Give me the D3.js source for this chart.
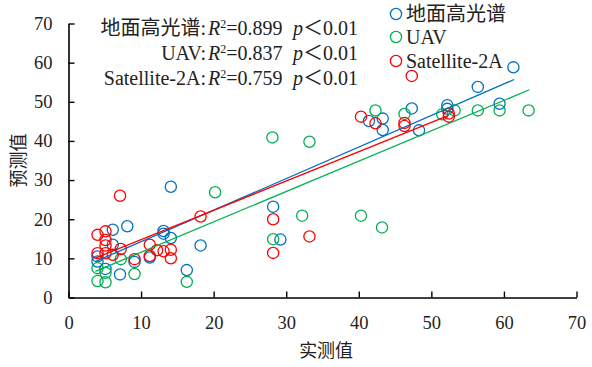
<!DOCTYPE html>
<html>
<head>
<meta charset="utf-8">
<script src="https://cdn.jsdelivr.net/npm/d3@7"></script>
<style>
  body { margin: 0; background: #fff; }
  text { font-family: "Liberation Serif", "Noto Sans CJK SC", serif; fill: #222; }
</style>
</head>
<body>
<div id="chart"></div>
<script>
// series names and colours
var seriesNames = ["地面高光谱", "UAV", "Satellite-2A"];
var seriesColors = ["#0070C0", "#00B050", "#FF0000"];

var hyperX = [61.3, 56.4, 47.3, 52.2, 52.2, 59.4, 43.3, 43.3, 41.4, 48.3, 28.2, 29.2, 18.2, 14.1, 6.1, 8.1, 6.1, 4.0, 4.0, 9.1, 7.1, 11.2, 13.1, 13.1, 14.1, 16.3, 5.1];
var hyperY = [58.8, 53.8, 48.3, 49.1, 48.2, 49.5, 45.7, 42.8, 45.1, 42.7, 23.2, 14.8, 13.3, 28.3, 17.3, 18.2, 13.5, 10.5, 9.2, 9.1, 5.9, 10.2, 17.0, 16.3, 15.2, 7.0, 7.3];

var uavX = [63.4, 59.4, 56.4, 53.2, 51.5, 46.3, 42.3, 43.2, 40.3, 32.2, 33.2, 28.1, 28.2, 20.2, 16.3, 9.1, 7.2, 4.0, 5.1, 4.0, 5.1];
var uavY = [47.8, 47.8, 47.8, 47.8, 46.8, 46.9, 47.8, 17.9, 20.9, 20.9, 39.8, 40.9, 14.9, 26.9, 4.0, 6.0, 9.8, 7.5, 6.3, 4.2, 3.9];

var satX = [47.3, 40.3, 42.3, 46.3, 46.3, 52.4, 52.4, 28.2, 28.2, 33.2, 18.2, 7.1, 4.0, 5.1, 5.1, 5.1, 7.2, 4.0, 5.1, 6.1, 9.1, 11.2, 11.2, 12.2, 13.1, 14.1, 14.1];
var satY = [56.6, 46.2, 44.5, 44.6, 43.8, 46.2, 47.0, 20.0, 11.4, 15.6, 20.7, 26.0, 16.0, 16.9, 14.7, 13.3, 12.4, 11.3, 11.3, 10.9, 9.8, 13.5, 10.6, 12.1, 11.8, 12.2, 10.0];

// linear fits (slope, intercept, x range) and stats
var fitSlope = [0.806, 0.776, 0.749];
var fitIntercept = [6.2, 3.8, 7.3];
var fitFrom = [3.7, 3.7, 3.7];
var fitTo = [61.4, 63.5, 52.4];
var r2Values = ["0.899", "0.837", "0.759"];

var xTicks = [0, 10, 20, 30, 40, 50, 60, 70];
var yTicks = [0, 10, 20, 30, 40, 50, 60, 70];

var W = 592, H = 367;
var margin = { top: 23.5, right: 15.5, bottom: 69.5, left: 68.5 };
var width = W - margin.left - margin.right,
    height = H - margin.top - margin.bottom;

var svg = d3.select("#chart").append("svg")
    .attr("width", W).attr("height", H);
var g = svg.append("g")
    .attr("transform", "translate(" + margin.left + "," + margin.top + ")");

var x = d3.scaleLinear().domain([0, 70]).range([0, width]);
var y = d3.scaleLinear().domain([0, 70]).range([height, 0]);

// axes, ticks pointing inward
var xAxis = g.append("g")
    .attr("transform", "translate(0," + height + ")")
    .call(d3.axisBottom(x).tickValues(xTicks).tickSize(-6).tickPadding(18).tickSizeOuter(0));
var yAxis = g.append("g")
    .call(d3.axisLeft(y).tickValues(yTicks).tickSize(-6).tickPadding(16).tickSizeOuter(0));

[xAxis, yAxis].forEach(function(a) {
    a.select(".domain").attr("stroke", "#000").attr("stroke-width", 1.6);
    a.selectAll(".tick line").attr("stroke", "#000").attr("stroke-width", 1.4);
    a.selectAll(".tick text")
        .style("font-family", "Liberation Serif")
        .style("font-size", "18.5px")
        .attr("fill", "#222");
});

// axis titles
svg.append("text")
    .attr("x", margin.left + x(35.5)).attr("y", 357)
    .attr("text-anchor", "middle")
    .style("font-size", "18px")
    .text("实测值");
svg.append("text")
    .attr("transform", "translate(25," + (margin.top + y(35)) + ") rotate(-90)")
    .attr("text-anchor", "middle")
    .style("font-size", "18px")
    .text("预测值");

var series = [
    { xs: hyperX, ys: hyperY },
    { xs: uavX, ys: uavY },
    { xs: satX, ys: satY }
];

// points
series.forEach(function(s, i) {
    var pts = s.xs.map(function(v, k) { return [v, s.ys[k]]; });
    g.append("g").selectAll("circle")
        .data(pts)
        .enter()
        .append("circle")
        .attr("cx", function(d) { return x(d[0]); })
        .attr("cy", function(d) { return y(d[1]); })
        .attr("r", 5.6)
        .attr("fill", "none")
        .attr("stroke", seriesColors[i])
        .attr("stroke-width", 1.3);
});

// trend lines
series.forEach(function(s, i) {
    var a = fitFrom[i], b = fitTo[i];
    g.append("line")
        .attr("x1", x(a)).attr("y1", y(fitSlope[i] * a + fitIntercept[i]))
        .attr("x2", x(b)).attr("y2", y(fitSlope[i] * b + fitIntercept[i]))
        .attr("stroke", seriesColors[i])
        .attr("stroke-width", 1.3);
});

// stats text
var statY = [35, 60, 85];
seriesNames.forEach(function(name, i) {
    svg.append("text")
        .attr("x", 206).attr("y", statY[i])
        .attr("text-anchor", "end")
        .style("font-size", "20px")
        .text(name + ":");
    var t = svg.append("text")
        .attr("x", 208).attr("y", statY[i])
        .style("font-size", "20px");
    t.append("tspan").style("font-style", "italic").text("R");
    t.append("tspan").attr("dy", -7).style("font-size", "12px").text("2");
    t.append("tspan").attr("dy", 7).text("=" + r2Values[i]);
    var p = svg.append("text")
        .attr("x", 293).attr("y", statY[i])
        .style("font-size", "20px");
    p.append("tspan").style("font-style", "italic").text("p");
    p.append("tspan").text("＜0.01");
});

// legend
var legendY = [14, 37, 61];
seriesNames.forEach(function(name, i) {
    svg.append("circle")
        .attr("cx", 396).attr("cy", legendY[i])
        .attr("r", 5.6)
        .attr("fill", "none")
        .attr("stroke", seriesColors[i])
        .attr("stroke-width", 1.3);
    svg.append("text")
        .attr("x", 406).attr("y", legendY[i] + 7)
        .style("font-size", "20px")
        .text(name);
});
</script>
</body>
</html>
